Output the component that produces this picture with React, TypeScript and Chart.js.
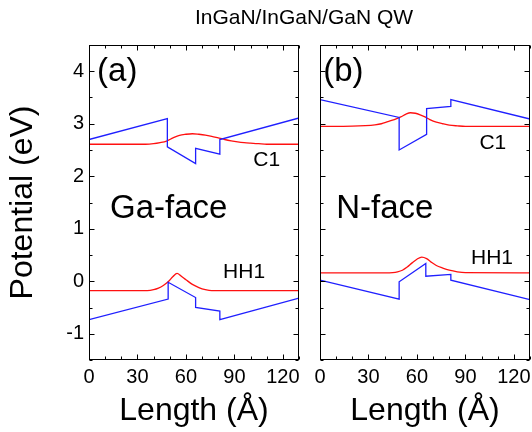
import { useEffect, useRef } from "react";
import { Chart, registerables } from "chart.js";

Chart.register(...registerables);

const FONT = '"Liberation Sans", Arial, Helvetica, sans-serif';
const BLUE = "#1f1fff";
const RED = "#ff1010";

// Tick labels
const xTickLabels = [0, 30, 60, 90, 120];
const yTickLabels = [-1, 0, 1, 2, 3, 4];

// (a) Ga-face
const gaCbX = [0, 48.5, 48.5, 66, 66, 81, 81, 130];
const gaCbY = [2.7, 3.1, 2.56, 2.24, 2.53, 2.42, 2.7, 3.11];
const gaVbX = [0, 49, 49, 66, 66, 81, 81, 130];
const gaVbY = [-0.73, -0.34, -0.02, -0.31, -0.5, -0.57, -0.73, -0.32];
const gaC1X = [0, 20, 35, 40, 44, 48, 52, 56, 60, 64, 68, 72, 76, 80, 84, 88, 92, 96, 100, 105, 110, 130];
const gaC1Y = [2.61, 2.61, 2.61, 2.62, 2.64, 2.67, 2.73, 2.78, 2.8, 2.81, 2.8, 2.785, 2.76, 2.73, 2.7, 2.675, 2.655, 2.64, 2.63, 2.62, 2.61, 2.61];
const gaHh1X = [0, 30, 36, 40, 43, 46, 49, 52, 54.5, 57, 60, 64, 68, 72, 76, 130];
const gaHh1Y = [-0.18, -0.18, -0.178, -0.16, -0.13, -0.08, -0.01, 0.09, 0.15, 0.1, 0.03, -0.06, -0.12, -0.16, -0.18, -0.18];

// (b) N-face
const nCbX = [0, 49, 49, 66, 66, 81, 81, 130];
const nCbY = [3.46, 3.12, 2.5, 2.8, 3.29, 3.33, 3.46, 3.09];
const nVbX = [0, 49, 49, 65.5, 65.5, 81, 81, 130];
const nVbY = [0.02, -0.34, -0.01, 0.34, 0.095, 0.13, 0.02, -0.35];
const nC1X = [0, 20, 28, 34, 38, 42, 46, 50, 53, 56, 59, 62, 65, 68, 72, 76, 80, 85, 90, 130];
const nC1Y = [2.95, 2.955, 2.965, 2.98, 3.0, 3.04, 3.08, 3.13, 3.18, 3.21, 3.2, 3.17, 3.13, 3.08, 3.03, 3.0, 2.975, 2.96, 2.95, 2.95];
const nHh1X = [0, 40, 45, 48, 51, 54, 57, 60, 63, 66, 69, 72, 76, 80, 85, 90, 130];
const nHh1Y = [0.16, 0.16, 0.165, 0.18, 0.21, 0.27, 0.35, 0.42, 0.46, 0.43, 0.36, 0.3, 0.25, 0.21, 0.18, 0.165, 0.16];

const zip = (xs: number[], ys: number[]) => xs.map((x, i) => ({ x, y: ys[i] }));

const framePlugin = {
  id: "frame",
  afterDatasetsDraw(chart: any) {
    const { ctx, chartArea: a, scales } = chart;
    const L = Math.round(a.left) + 0.5;
    const R = Math.round(a.right) - 0.5;
    const T = Math.round(a.top) + 0.5;
    const B = Math.round(a.bottom) - 0.5;
    ctx.save();
    ctx.strokeStyle = "#000";
    ctx.lineWidth = 1;
    ctx.strokeRect(L, T, R - L, B - T);
    ctx.beginPath();
    const xs = scales.x;
    xs.ticks.forEach((t: any) => {
      const px = Math.round(xs.getPixelForValue(t.value)) + 0.5;
      const len = xTickLabels.includes(t.value) ? 5 : 3;
      ctx.moveTo(px, B);
      ctx.lineTo(px, B - len);
      ctx.moveTo(px, T);
      ctx.lineTo(px, T + len);
    });
    const ys = scales.y;
    ys.ticks.forEach((t: any) => {
      const py = Math.round(ys.getPixelForValue(t.value)) + 0.5;
      const len = yTickLabels.includes(t.value) ? 5 : 3;
      ctx.moveTo(L, py);
      ctx.lineTo(L + len, py);
      ctx.moveTo(R, py);
      ctx.lineTo(R - len, py);
    });
    ctx.stroke();
    ctx.restore();
  },
};

const notesPlugin = {
  id: "notes",
  afterDraw(chart: any, _args: any, opts: any) {
    const { ctx, scales } = chart;
    ctx.save();
    ctx.fillStyle = "#000";
    ctx.textBaseline = "middle";
    (opts.items || []).forEach((it: any) => {
      ctx.font = `${it.size}px ${FONT}`;
      ctx.textAlign = it.align || "left";
      ctx.fillText(it.text, scales.x.getPixelForValue(it.x), scales.y.getPixelForValue(it.y));
    });
    ctx.restore();
  },
};

function lineSet(xs: number[], ys: number[], color: string, smooth: boolean) {
  return {
    data: zip(xs, ys),
    borderColor: color,
    borderWidth: 1.3,
    pointRadius: 0,
    fill: false,
    tension: 0,
    cubicInterpolationMode: smooth ? "monotone" : "default",
  };
}

function makeConfig(panel: "a" | "b") {
  const isA = panel === "a";
  const datasets = isA
    ? [
        lineSet(gaCbX, gaCbY, BLUE, false),
        lineSet(gaVbX, gaVbY, BLUE, false),
        lineSet(gaC1X, gaC1Y, RED, true),
        lineSet(gaHh1X, gaHh1Y, RED, true),
      ]
    : [
        lineSet(nCbX, nCbY, BLUE, false),
        lineSet(nVbX, nVbY, BLUE, false),
        lineSet(nC1X, nC1Y, RED, true),
        lineSet(nHh1X, nHh1Y, RED, true),
      ];
  const items = isA
    ? [
        { text: "(a)", x: 5, y: 3.98, size: 33 },
        { text: "Ga-face", x: 13, y: 1.37, size: 33 },
        { text: "C1", x: 110, y: 2.3, size: 21, align: "center" },
        { text: "HH1", x: 96, y: 0.18, size: 21, align: "center" },
      ]
    : [
        { text: "(b)", x: 2, y: 3.98, size: 33 },
        { text: "N-face", x: 10, y: 1.38, size: 33 },
        { text: "C1", x: 107, y: 2.63, size: 21, align: "center" },
        { text: "HH1", x: 106.5, y: 0.43, size: 21, align: "center" },
      ];
  return {
    type: "line",
    data: { datasets },
    plugins: [framePlugin, notesPlugin],
    options: {
      animation: false,
      responsive: false,
      events: [],
      layout: { padding: { left: 0, top: 45, right: isA ? 6 : 2, bottom: 0 } },
      plugins: {
        legend: { display: false },
        tooltip: { enabled: false },
        notes: { items },
      },
      scales: {
        x: {
          type: "linear",
          min: 0,
          max: 130,
          grid: { display: false, drawTicks: false },
          border: { display: false },
          ticks: {
            stepSize: 10,
            autoSkip: false,
            maxRotation: 0,
            minRotation: 0,
            padding: 5,
            color: "#000",
            font: { family: FONT, size: 20 },
            callback: (v: any) => (xTickLabels.includes(Number(v)) ? String(v) : ""),
          },
          title: {
            display: true,
            text: "Length (Å)",
            color: "#000",
            font: { family: FONT, size: 32 },
            padding: { top: 0, bottom: 2 },
          },
          afterFit: (s: any) => {
            s.height = 72;
            s.paddingLeft = 0;
            s.paddingRight = 0;
          },
        },
        y: {
          type: "linear",
          min: -1.5,
          max: 4.5,
          grid: { display: false, drawTicks: false },
          border: { display: false },
          ticks: {
            display: isA,
            stepSize: 0.5,
            autoSkip: false,
            padding: 5,
            color: "#000",
            font: { family: FONT, size: 20 },
            callback: (v: any) => (yTickLabels.includes(Number(v)) ? String(v) : ""),
          },
          title: {
            display: isA,
            text: "Potential (eV)",
            color: "#000",
            font: { family: FONT, size: 32 },
            padding: { top: 4, bottom: 0 },
          },
          afterFit: (s: any) => {
            s.width = isA ? 89 : 15;
            s.paddingTop = 0;
            s.paddingBottom = 0;
          },
        },
      },
    },
  };
}

export default function App() {
  const refA = useRef<HTMLCanvasElement | null>(null);
  const refB = useRef<HTMLCanvasElement | null>(null);

  useEffect(() => {
    const a = new Chart(refA.current as HTMLCanvasElement, makeConfig("a") as any);
    const b = new Chart(refB.current as HTMLCanvasElement, makeConfig("b") as any);
    return () => {
      a.destroy();
      b.destroy();
    };
  }, []);

  return (
    <div style={{ position: "absolute", left: 0, top: 0, width: 532, height: 432, background: "#fff" }}>
      <canvas
        ref={refA}
        width={305}
        height={432}
        style={{ position: "absolute", left: 0, top: 0, width: 305, height: 432 }}
      />
      <canvas
        ref={refB}
        width={227}
        height={432}
        style={{ position: "absolute", left: 305, top: 0, width: 227, height: 432 }}
      />
      <div
        style={{
          position: "absolute",
          left: 104,
          top: 4,
          width: 400,
          textAlign: "center",
          fontFamily: FONT,
          fontSize: 21,
          lineHeight: "26px",
          color: "#000",
        }}
      >
        InGaN/InGaN/GaN QW
      </div>
    </div>
  );
}
